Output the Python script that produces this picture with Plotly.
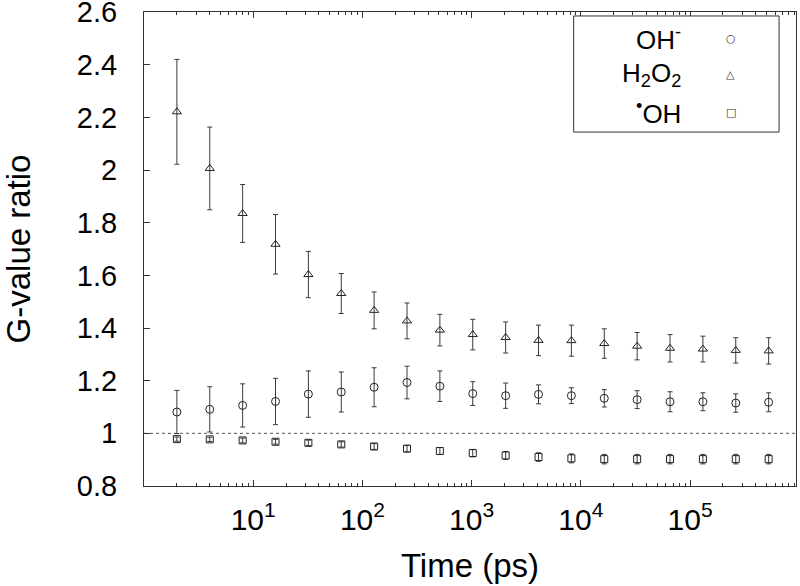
import plotly.graph_objects as go

# ---- data ----
time_ps = [2 ** k for k in range(1, 20)]

oh_minus = [1.081, 1.091, 1.106, 1.121, 1.149, 1.157, 1.175, 1.193, 1.179, 1.151,
            1.143, 1.148, 1.143, 1.133, 1.128, 1.120, 1.120, 1.115, 1.118]
oh_minus_err = [0.082, 0.086, 0.082, 0.088, 0.088, 0.076, 0.074, 0.062, 0.058, 0.045,
                0.048, 0.036, 0.030, 0.033, 0.034, 0.038, 0.034, 0.035, 0.036]

h2o2 = [2.221, 2.006, 1.835, 1.718, 1.603, 1.531, 1.467, 1.427, 1.392, 1.375,
        1.364, 1.353, 1.352, 1.341, 1.331, 1.323, 1.320, 1.315, 1.313]
h2o2_err = [0.199, 0.157, 0.110, 0.113, 0.088, 0.076, 0.070, 0.068, 0.060, 0.058,
            0.059, 0.058, 0.059, 0.056, 0.052, 0.052, 0.049, 0.048, 0.050]

oh_rad = [0.978, 0.977, 0.973, 0.968, 0.964, 0.958, 0.950, 0.942, 0.933, 0.925,
          0.916, 0.910, 0.905, 0.902, 0.902, 0.902, 0.902, 0.902, 0.902]
oh_rad_err = [0.008, 0.008, 0.009, 0.009, 0.010, 0.010, 0.011, 0.012, 0.013, 0.014,
              0.015, 0.016, 0.017, 0.018, 0.018, 0.018, 0.018, 0.018, 0.018]

series_names = ["OH<sup>-</sup>", "H<sub>2</sub>O<sub>2</sub>", "<sup>•</sup>OH"]
legend_glyphs = ["○", "△", "□"]

x_tickvals = [10, 100, 1000, 10000, 100000]
x_ticktext = ["10<sup>1</sup>", "10<sup>2</sup>", "10<sup>3</sup>", "10<sup>4</sup>", "10<sup>5</sup>"]
y_tickvals = [0.8, 1.0, 1.2, 1.4, 1.6, 1.8, 2.0, 2.2, 2.4, 2.6]
y_ticktext = ["0.8", "1", "1.2", "1.4", "1.6", "1.8", "2", "2.2", "2.4", "2.6"]
reference_level = 1.0

# ---- styling ----
FONT = "Liberation Sans, Arial, Helvetica, sans-serif"
MARK = "#222222"
ERR = "#3a3a3a"
AX = "#333333"

fig = go.Figure()

def add_series(y, err, symbol, size):
    fig.add_trace(go.Scatter(
        x=time_ps, y=y, mode="markers",
        marker=dict(symbol=symbol, size=size, color=MARK, line=dict(width=1, color=MARK)),
        error_y=dict(type="data", array=err, visible=True, color=ERR, thickness=1, width=2.5),
        showlegend=False,
    ))

add_series(oh_minus, oh_minus_err, "circle-open", 8)
add_series(h2o2, h2o2_err, "triangle-up-open", 8)
add_series(oh_rad, oh_rad_err, "square-open", 7)

# dashed reference line at ratio = 1
fig.add_shape(type="line", xref="paper", x0=0, x1=1, yref="y", y0=reference_level, y1=reference_level,
              line=dict(color="#555555", width=1, dash="dot"), layer="below")

# custom legend box (text left, symbol right)
fig.add_shape(type="rect", xref="paper", yref="paper", x0=0.659, x1=0.974, y0=0.7467, y1=0.9916,
              line=dict(color=AX, width=1), fillcolor="white", layer="above")
legend_y = [0.945, 0.868, 0.789]
for name, glyph, ly in zip(series_names, legend_glyphs, legend_y):
    fig.add_annotation(xref="paper", yref="paper", x=0.826, y=ly, text=name, showarrow=False,
                       xanchor="right", yanchor="middle", font=dict(family=FONT, size=26, color="black"))
    fig.add_annotation(xref="paper", yref="paper", x=0.900, y=ly, text=glyph, showarrow=False,
                       xanchor="center", yanchor="middle", font=dict(family="DejaVu Sans", size=11, color="#333333"))

fig.update_layout(
    width=800, height=586,
    margin=dict(l=144, r=4, t=12, b=100),
    paper_bgcolor="white", plot_bgcolor="white",
    font=dict(family=FONT, color="black"),
    showlegend=False,
)

fig.update_xaxes(
    type="log", range=[0.0, 5.97], automargin=False,
    tickvals=x_tickvals, ticktext=x_ticktext,
    ticks="inside", ticklen=6, tickwidth=1, tickcolor=AX,
    minor=dict(ticks="inside", ticklen=3, tickwidth=1, tickcolor=AX, dtick="D1", showgrid=False),
    showline=True, linecolor=AX, linewidth=1, mirror="ticks",
    showgrid=False, zeroline=False,
    tickfont=dict(family=FONT, size=30, color="black"),
    ticklabelstandoff=7, ticklabeloverflow="allow",
    title=dict(text="Time (ps)", font=dict(family=FONT, size=33, color="black"), standoff=18),
)
fig.update_yaxes(
    range=[0.8, 2.6001], automargin=False,
    tickvals=y_tickvals, ticktext=y_ticktext,
    ticks="inside", ticklen=6, tickwidth=1, tickcolor=AX,
    showline=True, linecolor=AX, linewidth=1, mirror=True,
    showgrid=False, zeroline=False,
    tickfont=dict(family=FONT, size=29, color="black"),
    ticklabelstandoff=20, ticklabeloverflow="allow",
    title=dict(text="G-value ratio", font=dict(family=FONT, size=33, color="black"), standoff=40),
)

fig.write_html("out.html", config={"displayModeBar": False},
               post_script="document.body.style.margin='0';document.body.style.overflow='hidden';")
